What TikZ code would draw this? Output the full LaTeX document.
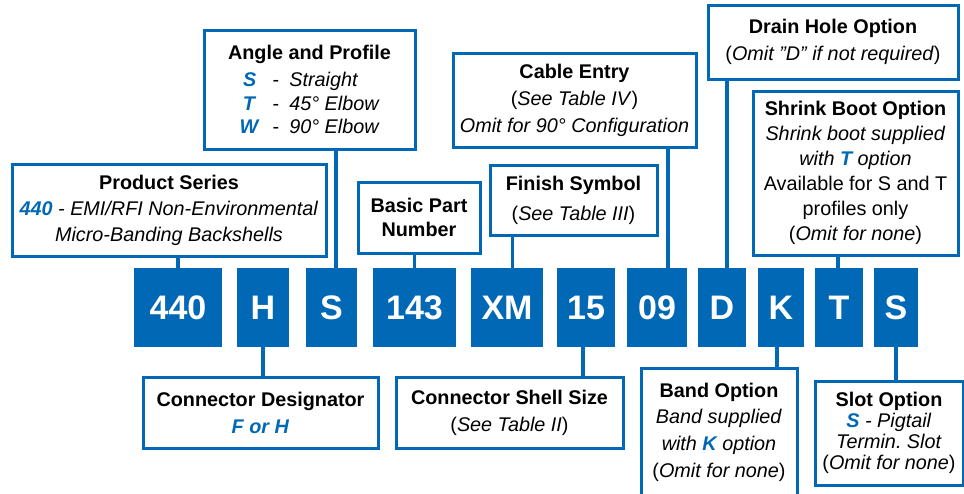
\documentclass[tikz,border=0pt]{standalone}
\usepackage{fontspec}
\setmainfont{Liberation Sans}
\usepackage{xcolor}
\usepackage{tikz}

\definecolor{partblue}{RGB}{0,104,180}
\newcommand{\opt}[1]{\textcolor{partblue}{\textbf{\textit{#1}}}}
\newcommand{\fsz}[1]{\fontsize{19.8}{#1}\selectfont}
\newcommand{\sq}{\char34\relax}
\frenchspacing

\begin{document}
\begin{tikzpicture}[x=1pt,y=1pt,yscale=-1,
  codebox/.style={fill=partblue,draw=none,text=white,inner sep=0pt,minimum height=79pt,font=\fontsize{34}{40}\selectfont\bfseries},
  infobox/.style={draw=partblue,line width=3pt,fill=white,align=center,inner sep=0pt,font=\fsz{26}},
  link/.style={draw=partblue,line width=3.5pt}]
\useasboundingbox (0,0) rectangle (964,493);

%Shape: Rectangle (part number fields)
\draw (178,307.5) node (c440) [codebox,minimum width=88pt] {440};
\draw (263,307.5) node (cH) [codebox,minimum width=52pt] {H};
\draw (331.5,307.5) node (cS) [codebox,minimum width=51pt] {S};
\draw (414.5,307.5) node (c143) [codebox,minimum width=83pt] {143};
\draw (507,307.5) node (cXM) [codebox,minimum width=72pt] {XM};
\draw (586,307.5) node (c15) [codebox,minimum width=58pt] {15};
\draw (657,307.5) node (c09) [codebox,minimum width=60pt] {09};
\draw (722,307.5) node (cD) [codebox,minimum width=48pt] {D};
\draw (781,307.5) node (cK) [codebox,minimum width=46pt] {K};
\draw (839,307.5) node (cT) [codebox,minimum width=48pt] {T};
\draw (896,307.5) node (cSl) [codebox,minimum width=44pt] {S};

% Text Node
\draw (169,210) node (prod) [infobox,minimum width=314pt,minimum height=92pt]
  {\textbf{Product Series}\\ \opt{440}\textit{ - EMI/RFI Non-Environmental}\\ \textit{Micro-Banding Backshells}};
% Text Node
\draw (309.5,89.5) node (angle) [infobox,minimum width=211pt,minimum height=119pt,font=\fsz{23.5}]
  {\textbf{Angle and Profile}\\[3.5pt]
   \makebox[20pt]{\opt{S}}\hspace{13pt}-\hspace{10pt}\makebox[90pt][l]{\textit{Straight}}\\
   \makebox[20pt]{\opt{T}}\hspace{13pt}-\hspace{10pt}\makebox[90pt][l]{\textit{45° Elbow}}\\
   \makebox[20pt]{\opt{W}}\hspace{13pt}-\hspace{10pt}\makebox[90pt][l]{\textit{90° Elbow}}};
% Text Node
\draw (419,217.5) node (basic) [infobox,minimum width=122pt,minimum height=71pt,font=\fsz{24}]
  {\textbf{Basic Part}\\ \textbf{Number}};
% Text Node
\draw (574.5,100) node (cable) [infobox,minimum width=243pt,minimum height=94pt,font=\fsz{27}]
  {\textbf{Cable Entry}\\ (\textit{See Table IV})\\ \textit{Omit for 90° Configuration}};
% Text Node
\draw (573.5,200) node (finish) [infobox,minimum width=167pt,minimum height=70pt,font=\fsz{30}]
  {\textbf{Finish Symbol}\\ (\textit{See Table III})};
% Text Node
\draw (833,42) node (drain) [infobox,minimum width=250pt,minimum height=74pt,font=\fsz{27}]
  {\textbf{Drain Hole Option}\\ (\textit{Omit \sq D\sq\ if not required})};
% Text Node
\draw (855.5,173) node (shrink) [infobox,minimum width=205pt,minimum height=164pt,font=\fsz{25}]
  {\textbf{Shrink Boot Option}\\ \textit{Shrink boot supplied}\\ \textit{with \opt{T} option}\\
   Available for S and T\\ profiles only\\ (\textit{Omit for none})};
% Text Node
\draw (260.5,412.5) node (desig) [infobox,minimum width=235pt,minimum height=71pt,font=\fsz{27}]
  {\textbf{Connector Designator}\\ \opt{F or H}};
% Text Node
\draw (509.5,412.5) node (shell) [infobox,minimum width=227pt,minimum height=71pt,font=\fsz{27}]
  {\textbf{Connector Shell Size}\\ (\textit{See Table II})};
% Text Node
\draw (719,432) node (band) [infobox,minimum width=156pt,minimum height=128pt,font=\fsz{26.7}]
  {\textbf{Band Option}\\ \textit{Band supplied}\\ \textit{with \opt{K} option}\\ (\textit{Omit for none})};
% Text Node
\draw (889,433) node (slot) [infobox,minimum width=148pt,minimum height=104pt,font=\fsz{21}]
  {\textbf{Slot Option}\\ \opt{S}\textit{ - Pigtail}\\ \textit{Termin. Slot}\\ (\textit{Omit for none})};

%Straight Lines
\coordinate (pS) at ([xshift=4.5]cS.north);
\coordinate (pXM) at ([xshift=5.5]cXM.north);
\coordinate (p09) at ([xshift=11]c09.north);
\coordinate (pD) at ([xshift=5]cD.north);
\coordinate (pT) at ([xshift=-1]cT.north);
\coordinate (p15) at ([xshift=-3]c15.south);
\coordinate (pK) at ([xshift=-4]cK.south);
\draw[link] (c440.north) -- (c440.north |- prod.south);
\draw[link] (pS) -- (pS |- angle.south);
\draw[link] (c143.north) -- (c143.north |- basic.south);
\draw[link] (pXM) -- (pXM |- finish.south);
\draw[link] (p09) -- (p09 |- cable.south);
\draw[link] (pD) -- (pD |- drain.south);
\draw[link] (pT) -- (pT |- shrink.south);
\draw[link] (cH.south) -- (cH.south |- desig.north);
\draw[link] (p15) -- (p15 |- shell.north);
\draw[link] (pK) -- (pK |- band.north);
\draw[link] (cSl.south) -- (cSl.south |- slot.north);

\end{tikzpicture}
\end{document}
